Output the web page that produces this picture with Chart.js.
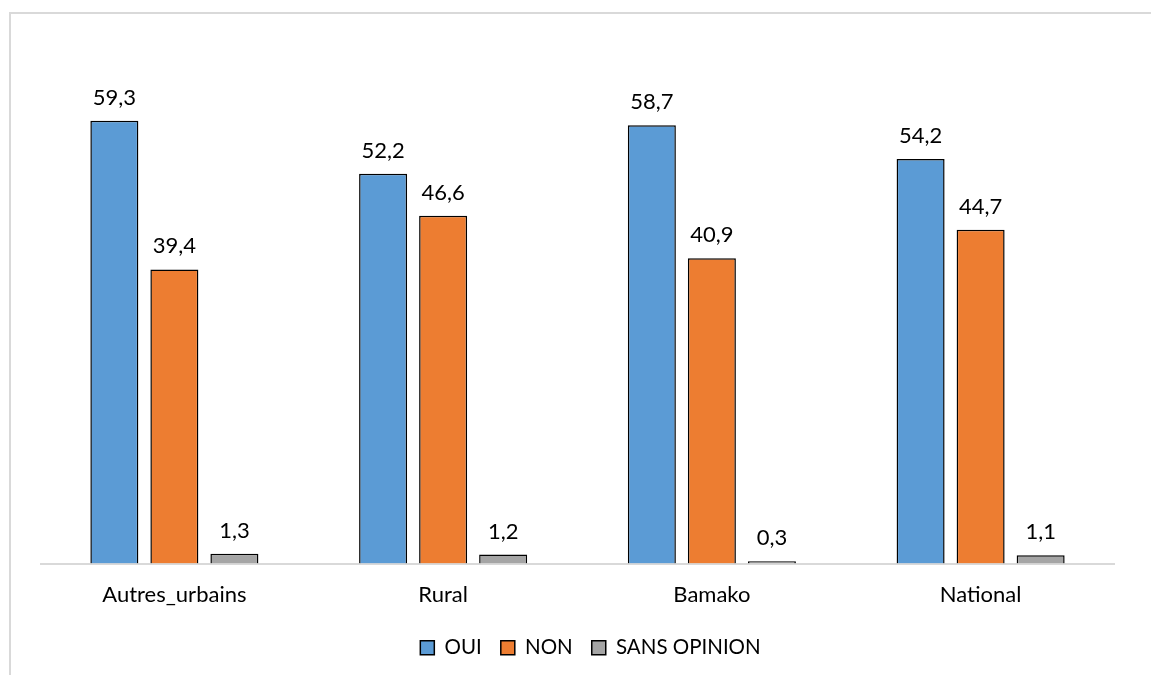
<!DOCTYPE html>
<html><head><meta charset="utf-8">
<script src="https://cdn.jsdelivr.net/npm/chart.js@4/dist/chart.umd.min.js"></script>
<style>html,body{margin:0;padding:0;background:#fff}#wrap{width:1151px;height:675px;position:relative}</style>
</head><body><div id="wrap"><canvas id="c" width="1151" height="675"></canvas></div>
<script>
const categories = ["Autres_urbains", "Rural", "Bamako", "National"];
const oui = [59.3, 52.2, 58.7, 54.2];
const non = [39.4, 46.6, 40.9, 44.7];
const sansOpinion = [1.3, 1.2, 0.3, 1.1];
const seriesNames = ["OUI", "NON", "SANS OPINION"];
const FONT = "Lato, 'Open Sans', sans-serif";

const framePlugin = {
  id: 'frame',
  beforeDraw(chart) {
    const ctx = chart.ctx;
    ctx.save();
    ctx.fillStyle = '#fff';
    ctx.fillRect(0, 0, chart.width, chart.height);
    ctx.strokeStyle = '#d9d9d9';
    ctx.lineWidth = 2;
    ctx.beginPath();
    ctx.moveTo(10, chart.height);
    ctx.lineTo(10, 13);
    ctx.lineTo(chart.width, 13);
    ctx.stroke();
    ctx.restore();
  }
};
const legendShift = {
  id: 'legendShift',
  afterLayout(chart) {
    if (chart.legend) { chart.legend.left += 13; chart.legend.right += 13; }
  }
};
const baselinePlugin = {
  id: 'baseline',
  beforeDatasetsDraw(chart) {
    const ctx = chart.ctx, a = chart.chartArea, y = chart.scales.y.getPixelForValue(0);
    ctx.save();
    ctx.strokeStyle = '#d9d9d9';
    ctx.lineWidth = 2;
    ctx.beginPath();
    ctx.moveTo(a.left, y + 0.5);
    ctx.lineTo(a.right, y + 0.5);
    ctx.stroke();
    ctx.restore();
  }
};
const labelPlugin = {
  id: 'vlabels',
  afterDatasetsDraw(chart) {
    const ctx = chart.ctx;
    ctx.save();
    ctx.font = "22px " + FONT;
    ctx.fillStyle = '#000';
    ctx.textAlign = 'center';
    ctx.textBaseline = 'alphabetic';
    chart.data.datasets.forEach((ds, i) => {
      chart.getDatasetMeta(i).data.forEach((bar, j) => {
        ctx.fillText(String(ds.data[j]).replace('.', ','), bar.x, bar.y - 16);
      });
    });
    ctx.restore();
  }
};

new Chart(document.getElementById('c'), {
  type: 'bar',
  data: {
    labels: categories,
    datasets: [
      { label: seriesNames[0], data: oui, backgroundColor: '#5B9BD5' },
      { label: seriesNames[1], data: non, backgroundColor: '#ED7D31' },
      { label: seriesNames[2], data: sansOpinion, backgroundColor: '#A5A5A5' }
    ].map(d => Object.assign(d, { borderColor: '#000', borderWidth: 1.5, categoryPercentage: 0.67, barPercentage: 0.8 }))
  },
  options: {
    responsive: false,
    animation: false,
    devicePixelRatio: 1,
    layout: { padding: { left: 40, right: 36, top: 41, bottom: 7 } },
    scales: {
      y: { display: false, min: 0, max: 70 },
      x: {
        grid: { display: false, drawTicks: false },
        border: { display: false },
        ticks: { color: '#000', font: { size: 22, family: FONT }, padding: 18 },
        afterFit(scale) { scale.height = 55; }
      }
    },
    plugins: {
      legend: {
        position: 'bottom',
        labels: { color: '#000', font: { size: 20.5, family: FONT }, boxWidth: 14, boxHeight: 14, padding: 19 }
      },
      tooltip: { enabled: false }
    }
  },
  plugins: [framePlugin, legendShift, baselinePlugin, labelPlugin]
});
</script></body></html>
